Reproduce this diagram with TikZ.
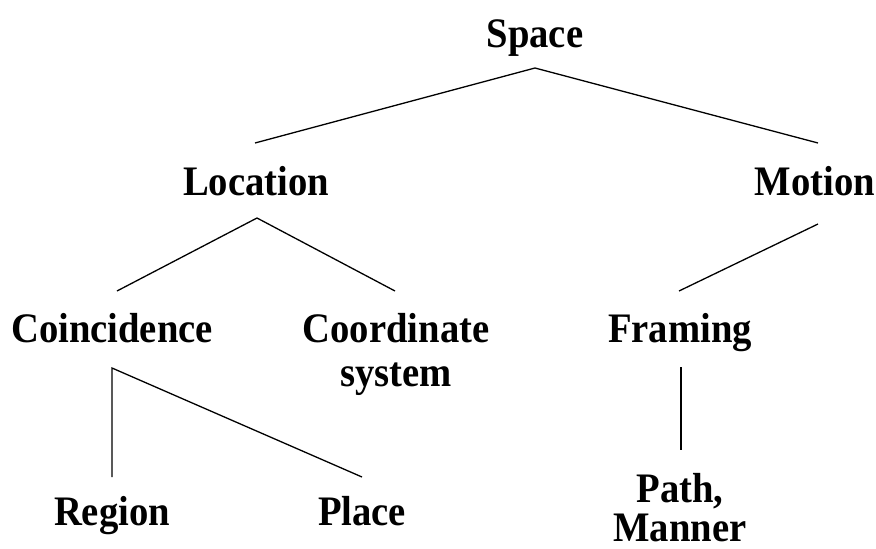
\documentclass[tikz,border=0pt]{standalone}
\usepackage{fontspec}
\setmainfont{Liberation Serif}[FakeStretch=0.92]
\begin{document}
\begin{tikzpicture}[x=1pt,y=-1pt,
  lbl/.style={font=\fontsize{42}{42}\selectfont\bfseries, anchor=base, inner sep=0pt, align=center},
  edge/.style={line width=1.3pt}]
\useasboundingbox (0,0) rectangle (876,549);
\node[lbl] (space) at (535,47) {Space};
\node[lbl] (location) at (256,195) {Location};
\node[lbl] (motion) at (815,195) {Motion};
\node[lbl] (coinc) at (112,342) {Coincidence};
\node[lbl, font=\fontsize{42}{44}\selectfont\bfseries] (coord) at (396,386) {Coordinate\\system};
\node[lbl] (framing) at (680,342) {Framing};
\node[lbl] (region) at (112,525) {Region};
\node[lbl] (place) at (362,525) {Place};
\node[lbl, font=\fontsize{42}{39}\selectfont\bfseries] (path) at (680,541) {Path,\\Manner};
% connector end points
\coordinate (spaceB) at (535,68);
\coordinate (locT) at (255,143);
\coordinate (motT) at (818,143);
\coordinate (locB) at (257,218);
\coordinate (coincT) at (117,291);
\coordinate (coordT) at (395,291);
\coordinate (motB) at (818,224);
\coordinate (framT) at (679,291);
\coordinate (coincB) at (112,368);
\coordinate (regT) at (112,477);
\coordinate (placeT) at (362,477);
\coordinate (framB) at (681,367);
\coordinate (pathT) at (681,450);
\draw[edge] (locT) -- (spaceB) -- (motT);
\draw[edge] (coincT) -- (locB) -- (coordT);
\draw[edge] (motB) -- (framT);
\draw[edge] (regT) -- (coincB) -- (placeT);
\draw[edge] (framB) -- (pathT);
\end{tikzpicture}
\end{document}
